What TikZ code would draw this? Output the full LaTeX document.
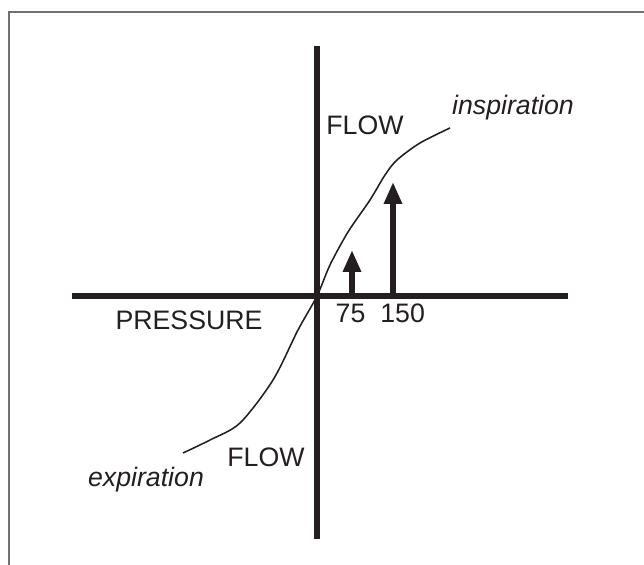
\documentclass[tikz,border=0pt]{standalone}
\usepackage{fontspec}
\setmainfont{Liberation Sans}
\usetikzlibrary{arrows.meta, positioning, calc}
\definecolor{cink}{HTML}{231F20}
\definecolor{cframe}{HTML}{707070}
\tikzset{
  every picture/.style={font=\fontsize{19}{22}\selectfont, line width=1.2pt},
  axis/.style={draw=cink, line width=4pt},
  loadarrow/.style={-{Triangle[length=5.5mm, width=4.3mm]}, draw=cink, line width=4pt},
  flowcurve/.style={draw=cink, line width=1.1pt},
  label/.style={text=cink, anchor=base, inner sep=0pt},
  phase/.style={label, font=\fontsize{19}{22}\selectfont\itshape},
}

\begin{document}
\begin{tikzpicture}
  \useasboundingbox (-7.925,-6.725) rectangle (8.175,7.4);
  % frame (top and left edge only)
  \draw[cframe, line width=0.8pt] (8.175,7.1) -- (-7.7,7.1) -- (-7.7,-6.725);
  % axes
  \coordinate (o) at (0,0);
  \coordinate (ptop) at (0,6.25);
  \coordinate (pbot) at (0,-6.075);
  \coordinate (pleft) at (-6.125,0);
  \coordinate (pright) at (6.275,0);
  \draw[axis] (ptop) -- (pbot);
  \draw[axis] (pleft) -- (pright);
  % pressure steps
  \coordinate (b75) at (0.875,0);
  \coordinate (t75) at (0.875,1.15);
  \coordinate (b150) at (1.9,0);
  \coordinate (t150) at (1.9,2.85);
  \draw[loadarrow] (b75) -- (t75);
  \draw[loadarrow] (b150) -- (t150);
  % pressure-flow curve
  \draw[flowcurve] plot[smooth, tension=0.5] coordinates {
    (-3.35,-3.925) (-2.675,-3.6) (-1.925,-3.175) (-1.1,-2.1) (-0.475,-0.85) (o)
    (0.325,0.775) (0.775,1.6) (1.325,2.4) (1.7,3.025) (2.0,3.4) (2.575,3.825) (3.325,4.2)};
  % labels
  \node[label] (flowup) at (1.2,4.025) {FLOW};
  \node[label] (flowdown) at (-1.275,-4.275) {FLOW};
  \node[label] (press) at (-3.2,-0.85) {PRESSURE};
  \node[label] (l75) at (0.84,-0.675) {75};
  \node[label] (l150) at (2.14,-0.675) {150};
  \node[phase] (insp) at (4.9,4.525) {inspiration};
  \node[phase] (expi) at (-4.275,-4.775) {expiration};
\end{tikzpicture}
\end{document}
